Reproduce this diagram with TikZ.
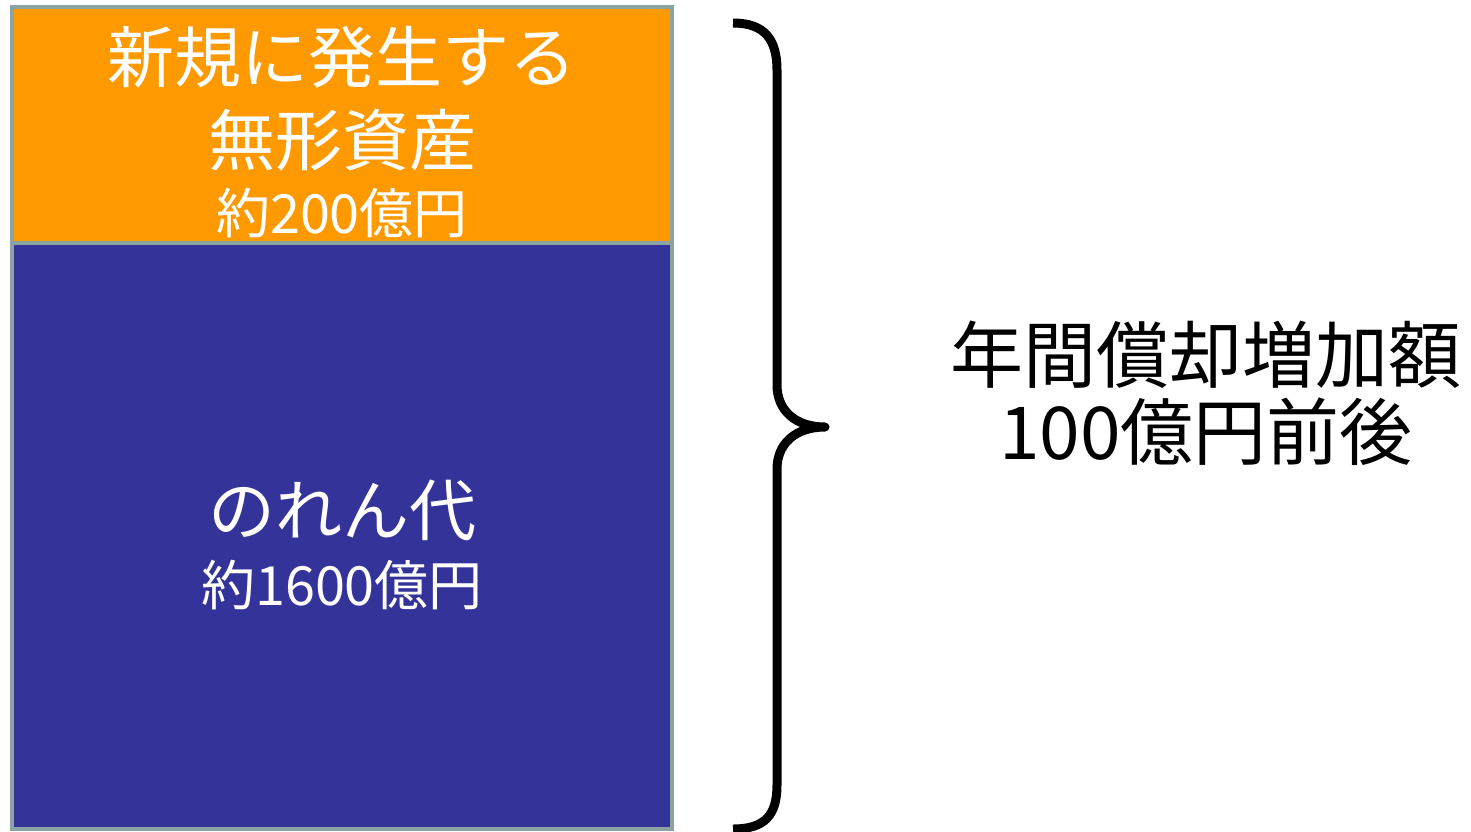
\documentclass[tikz,border=0pt]{standalone}
\usepackage{fontspec}
\setmainfont{Noto Sans CJK JP}
\definecolor{boxorange}{HTML}{FF9900}
\definecolor{boxblue}{HTML}{333399}
\definecolor{boxgray}{HTML}{8CA3A3}
\begin{document}
\begin{tikzpicture}[x=0.5pt,y=-0.5pt,
  blk/.style={draw=boxgray,line width=2pt},
  big/.style={text=white,font=\fontsize{33.5pt}{36pt}\selectfont,inner sep=0pt},
  small/.style={text=white,font=\fontsize{27pt}{29pt}\selectfont,inner sep=0pt},
  rt/.style={text=black,font=\fontsize{36.5pt}{40pt}\selectfont,inner sep=0pt}]
\useasboundingbox (0,0) rectangle (1471,831);
\fill[white] (0,0) rectangle (1471,831);
\draw[blk,fill=boxorange] (12,7) rectangle (672,243);
\draw[blk,fill=boxblue] (12,243) rectangle (672,829);
\node[big] (t1) at (342,57) {新規に発生する};
\node[big] (t2) at (342,140) {無形資産};
\node[small] (t3) at (342,213) {約200億円};
\node[big] (t4) at (342,510) {のれん代};
\node[small] (t5) at (342,585) {約1600億円};
\node[rt] (r1) at (1206,355) {年間償却増加額};
\node[rt] (r2) at (1206,432) {100億円前後};
\draw[line width=4.5pt,line join=round] (733,23) .. controls (765,23) and (777,40) .. (777,70) -- (777,385) .. controls (777,410) and (795,427) .. (825,427) .. controls (795,427) and (777,444) .. (777,469) -- (777,785) .. controls (777,815) and (765,829) .. (733,829);
\end{tikzpicture}
\end{document}
